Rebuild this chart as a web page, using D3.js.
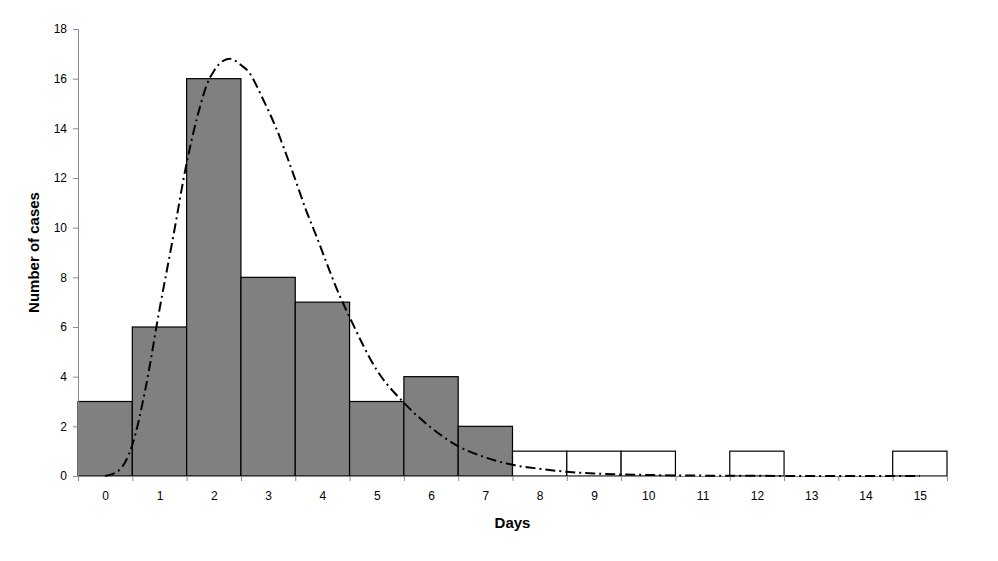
<!DOCTYPE html>
<html lang="en">
  <head>
    <meta charset="UTF-8" />
    <title>Cases by day</title>
    <script src="https://d3js.org/d3.v7.min.js"></script>
    <style>
      body { margin: 0; background: #fff; }
      text { font-family: "Liberation Sans", Arial, sans-serif; }
    </style>
  </head>

  <body>
    <svg width="998" height="561"></svg>

    <script>
      // histogram: days and number of cases
      const days = [0, 1, 2, 3, 4, 5, 6, 7, 8, 9, 10, 11, 12, 13, 14, 15];
      const cases = [3, 6, 16, 8, 7, 3, 4, 2, 1, 1, 1, 0, 1, 0, 0, 1];
      const shadedUpTo = 7; // bars after day 7 are white

      // fitted curve
      const curveDays = [0, 0.25, 0.5, 0.75, 1, 1.25, 1.5, 1.75, 1.87, 2, 2.18, 2.3, 2.5, 2.64, 2.9, 3.15, 3.45, 3.7, 3.9, 4.1, 4.3, 4.5, 5, 5.5, 6, 6.5, 7, 7.5, 8, 8.5, 9, 10, 11, 12, 13, 14, 15];
      const curveVals = [0, 0.22, 1.25, 3.6, 6.7, 9.6, 12.6, 14.9, 15.75, 16.3, 16.73, 16.8, 16.55, 16.28, 15.2, 14.0, 12.25, 10.7, 9.6, 8.45, 7.35, 6.4, 4.27, 2.95, 1.95, 1.2, 0.75, 0.45, 0.29, 0.17, 0.1, 0.04, 0.015, 0.006, 0.002, 0, 0];

      const yTicks = [0, 2, 4, 6, 8, 10, 12, 14, 16, 18];

      const svg = d3.select("svg");
      const mLeft = 78, mRight = 947, mTop = 29, mBottom = 476;

      const x = d3.scaleLinear().domain([-0.5, 15.5]).range([mLeft, mRight]);
      const y = d3.scaleLinear().domain([0, 18]).range([mBottom, mTop]);

      const bins = days
        .map(function (d, i) { return { day: d, n: cases[i] }; })
        .filter(function (b) { return b.n > 0; });

      // bars
      svg.append("g")
        .selectAll("rect")
        .data(bins)
        .enter()
        .append("rect")
        .attr("x", function (d) { return x(d.day - 0.5); })
        .attr("width", function (d) { return x(d.day + 0.5) - x(d.day - 0.5); })
        .attr("y", function (d) { return y(d.n); })
        .attr("height", function (d) { return mBottom - y(d.n); })
        .attr("fill", function (d) { return d.day <= shadedUpTo ? "#808080" : "#ffffff"; })
        .attr("stroke", "#000")
        .attr("stroke-width", 1.2);

      // y axis
      const yAxis = svg.append("g")
        .attr("transform", "translate(" + mLeft + ",0)")
        .call(d3.axisLeft(y).tickValues(yTicks).tickSize(5).tickPadding(6));
      yAxis.select(".domain").attr("stroke", "#888");
      yAxis.selectAll(".tick line").attr("stroke", "#888");
      yAxis.selectAll("text")
        .attr("font-size", 12)
        .attr("fill", "#000")
        .attr("font-family", "Liberation Sans, Arial, sans-serif");

      // x axis: ticks at bin edges, labels at bin centres
      const edges = days.concat([16]).map(function (d) { return d - 0.5; });
      const xAxis = svg.append("g")
        .attr("transform", "translate(0," + mBottom + ")")
        .call(d3.axisBottom(x).tickValues(edges).tickSize(5).tickFormat("").tickSizeOuter(0));
      xAxis.select(".domain").attr("stroke", "#888");
      xAxis.selectAll(".tick line").attr("stroke", "#888");

      const xLabels = svg.append("g")
        .attr("transform", "translate(0," + mBottom + ")")
        .call(d3.axisBottom(x).tickValues(days).tickSize(0).tickPadding(15).tickFormat(d3.format("d")));
      xLabels.select(".domain").remove();
      xLabels.selectAll("text")
        .attr("font-size", 12)
        .attr("fill", "#000")
        .attr("font-family", "Liberation Sans, Arial, sans-serif");

      // fitted curve
      const line = d3.line()
        .x(function (d, i) { return x(curveDays[i]); })
        .y(function (d) { return y(d); })
        .curve(d3.curveMonotoneX);

      svg.append("path")
        .datum(curveVals)
        .attr("d", line)
        .attr("fill", "none")
        .attr("stroke", "#000")
        .attr("stroke-width", 2)
        .attr("stroke-dasharray", "10,4,2,4");

      // axis titles
      svg.append("text")
        .attr("x", x(7.5))
        .attr("y", 528)
        .attr("text-anchor", "middle")
        .attr("font-size", 15)
        .attr("font-weight", "bold")
        .text("Days");

      svg.append("text")
        .attr("transform", "translate(39," + y(9) + ") rotate(-90)")
        .attr("text-anchor", "middle")
        .attr("font-size", 15)
        .attr("font-weight", "bold")
        .text("Number of cases");
    </script>
  </body>
</html>
